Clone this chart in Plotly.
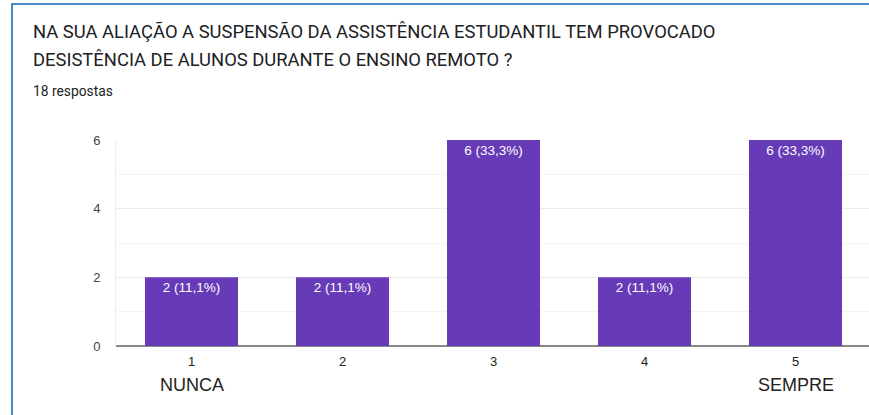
import plotly.graph_objects as go

categories = [1, 2, 3, 4, 5]
tick_labels = ["1", "2", "3", "4", "5"]
counts = [2, 2, 6, 2, 6]
bar_labels = ["2 (11,1%)", "2 (11,1%)", "6 (33,3%)", "2 (11,1%)", "6 (33,3%)"]
scale_ends = {1: "NUNCA", 5: "SEMPRE"}
title_lines = ["NA SUA ALIAÇÃO A SUSPENSÃO DA ASSISTÊNCIA ESTUDANTIL TEM PROVOCADO",
               "DESISTÊNCIA DE ALUNOS DURANTE O ENSINO REMOTO ?"]
subtitle = "18 respostas"

W, H = 869, 415
L, R, T, B = 116, 0, 140, 69
pw, ph = W - L - R, H - T - B

def px_x(p):
    return (p - L) / pw

def px_y(p):
    return (H - B - p) / ph

fig = go.Figure()
fig.add_trace(go.Bar(
    x=categories, y=counts, text=bar_labels,
    textposition="inside", insidetextanchor="end", textangle=0,
    textfont=dict(family="Arial", size=13.5, color="white"),
    marker=dict(color="#673ab7", line=dict(width=0)),
    cliponaxis=False, hoverinfo="skip",
))

annotations = [
    dict(text=title_lines[0], x=px_x(31), y=px_y(31), xref="paper", yref="paper",
         xanchor="left", yanchor="middle", showarrow=False,
         font=dict(family="Roboto", size=18.4, color="#202124")),
    dict(text=title_lines[1], x=px_x(31), y=px_y(60), xref="paper", yref="paper",
         xanchor="left", yanchor="middle", showarrow=False,
         font=dict(family="Roboto", size=18.4, color="#202124")),
    dict(text=subtitle, x=px_x(31), y=px_y(91), xref="paper", yref="paper",
         xanchor="left", yanchor="middle", showarrow=False,
         font=dict(family="Roboto", size=13.8, color="#202124")),
]
for c, lab in scale_ends.items():
    annotations.append(dict(text=lab, x=c, y=px_y(385), xref="x", yref="paper",
                            xanchor="center", yanchor="middle", showarrow=False,
                            font=dict(family="Arial", size=18, color="#222222")))

shapes = [
    dict(type="line", xref="paper", yref="paper", x0=px_x(12), x1=px_x(12),
         y0=px_y(4), y1=px_y(H + 5), line=dict(color="#4a86c8", width=2)),
    dict(type="line", xref="paper", yref="paper", x0=px_x(11), x1=px_x(W + 5),
         y0=px_y(4), y1=px_y(4), line=dict(color="#4a86c8", width=2)),
]

fig.update_layout(
    width=W, height=H, margin=dict(l=L, r=R, t=T, b=B, autoexpand=False),
    paper_bgcolor="white", plot_bgcolor="white", showlegend=False,
    bargap=0.384, annotations=annotations, shapes=shapes,
    xaxis=dict(range=[0.5, 0.5 + pw / 151], tickmode="array", tickvals=categories,
               ticktext=tick_labels, showgrid=False, zeroline=False,
               showline=False, ticks="", ticklabelstandoff=6,
               tickfont=dict(family="Arial", size=13, color="#222222"), fixedrange=True),
    yaxis=dict(range=[0, 6], tickvals=[0, 2, 4, 6], showgrid=True, gridcolor="#ebebeb",
               gridwidth=1, zeroline=True, zerolinecolor="#888888", zerolinewidth=2,
               showline=True, linecolor="#eeeeee", linewidth=1, ticks="",
               ticklabelstandoff=12,
               minor=dict(tickvals=[1, 3, 5], showgrid=True, gridcolor="#f4f4f4", gridwidth=1),
               tickfont=dict(family="Arial", size=13, color="#444444"), fixedrange=True),
)

fig.write_html("out.html", config={"displayModeBar": False},
               post_script="document.body.style.margin='0';document.body.style.overflow='hidden';")
